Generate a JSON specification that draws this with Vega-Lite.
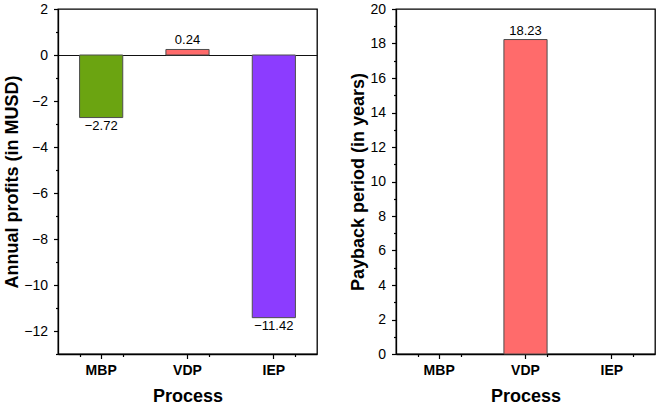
{
  "$schema": "https://vega.github.io/schema/vega-lite/v6.json",
  "background": "white",
  "padding": {"left": 3, "top": 1, "right": 2, "bottom": 1},
  "spacing": 31,
  "data": {"values": [
    {"process": "MBP", "profit": -2.72, "payback": null},
    {"process": "VDP", "profit": 0.24, "payback": 18.23},
    {"process": "IEP", "profit": -11.42, "payback": null}
  ]},
  "config": {
    "font": "Liberation Sans",
    "view": {"stroke": "#000", "strokeWidth": 1.3},
    "axis": {"domainColor": "#000", "domainWidth": 1.3, "tickColor": "#000", "tickWidth": 1.2, "labelColor": "#000", "titleColor": "#000", "labelFont": "Liberation Sans", "titleFont": "Liberation Sans", "grid": false},
    "text": {"font": "Liberation Sans", "fontSize": 13, "color": "#000"}
  },
  "hconcat": [
    {
      "width": 259,
      "height": 345,
      "encoding": {
        "y": {"field": "profit", "type": "quantitative",
          "scale": {"domain": [-13, 2], "nice": false, "zero": false},
          "axis": {"title": "Annual profits (in MUSD)", "titleFontSize": 18, "titleFontWeight": "bold", "labelFontSize": 14,
            "values": [-13, -12, -11, -10, -9, -8, -7, -6, -5, -4, -3, -2, -1, 0, 1, 2],
            "labelExpr": "datum.value % 2 == 0 ? datum.label : ''",
            "tickSize": {"condition": {"test": "datum.value % 2 != 0", "value": 2.5}, "value": 4.5},
            "grid": true, "gridColor": "#111", "gridWidth": 1.1,
            "gridOpacity": {"condition": {"test": "datum.value == 0", "value": 1}, "value": 0},
            "labelPadding": 6, "titlePadding": 2}}
      },
      "layer": [
        {
          "mark": {"type": "bar", "stroke": "#4d4d4d", "strokeWidth": 1},
          "encoding": {
            "x": {"field": "process", "type": "nominal", "sort": ["MBP", "VDP", "IEP"],
              "scale": {"paddingInner": 0.5, "paddingOuter": 0.25},
              "axis": {"orient": "bottom", "title": "Process", "titleFontSize": 18, "titleFontWeight": "bold", "labelFontSize": 14, "labelFontWeight": "bold", "labelAngle": 0, "tickSize": 4.5, "labelPadding": 5, "titlePadding": 10}},
            "color": {"field": "process", "type": "nominal", "scale": {"domain": ["MBP", "VDP", "IEP"], "range": ["#6BA411", "#FF6B6B", "#8C3CFF"]}, "legend": null}
          }
        },
        {
          "transform": [{"filter": "datum.profit >= 0"}],
          "mark": {"type": "text", "baseline": "bottom", "dy": -2},
          "encoding": {
            "x": {"field": "process", "type": "nominal", "sort": ["MBP", "VDP", "IEP"],
              "axis": {"orient": "bottom", "tickBand": "extent", "labels": false, "title": null, "domain": false, "tickSize": 2.5}},
            "text": {"field": "profit", "type": "quantitative", "format": ".2f"}
          }
        },
        {
          "transform": [{"filter": "datum.profit < 0"}],
          "mark": {"type": "text", "baseline": "top", "dy": 2},
          "encoding": {
            "x": {"field": "process", "type": "nominal", "sort": ["MBP", "VDP", "IEP"], "axis": null},
            "text": {"field": "profit", "type": "quantitative", "format": ".2f"}
          }
        }
      ],
      "resolve": {"axis": {"x": "independent"}}
    },
    {
      "width": 259,
      "height": 345,
      "encoding": {
        "y": {"field": "payback", "type": "quantitative",
          "scale": {"domain": [0, 20], "nice": false},
          "axis": {"title": "Payback period (in years)", "titleFontSize": 18, "titleFontWeight": "bold", "labelFontSize": 14,
            "values": [0, 1, 2, 3, 4, 5, 6, 7, 8, 9, 10, 11, 12, 13, 14, 15, 16, 17, 18, 19, 20],
            "labelExpr": "datum.value % 2 == 0 ? datum.label : ''",
            "tickSize": {"condition": {"test": "datum.value % 2 != 0", "value": 2.5}, "value": 4.5},
            "labelPadding": 6, "titlePadding": 2}}
      },
      "layer": [
        {
          "mark": {"type": "bar", "stroke": "#4d4d4d", "strokeWidth": 1},
          "encoding": {
            "x": {"field": "process", "type": "nominal", "sort": ["MBP", "VDP", "IEP"],
              "scale": {"paddingInner": 0.5, "paddingOuter": 0.25},
              "axis": {"orient": "bottom", "title": "Process", "titleFontSize": 18, "titleFontWeight": "bold", "labelFontSize": 14, "labelFontWeight": "bold", "labelAngle": 0, "tickSize": 4.5, "labelPadding": 5, "titlePadding": 10}},
            "color": {"field": "process", "type": "nominal", "scale": {"domain": ["MBP", "VDP", "IEP"], "range": ["#6BA411", "#FF6B6B", "#8C3CFF"]}, "legend": null}
          }
        },
        {
          "transform": [{"filter": "datum.payback != null"}],
          "mark": {"type": "text", "baseline": "bottom", "dy": -2},
          "encoding": {
            "x": {"field": "process", "type": "nominal", "sort": ["MBP", "VDP", "IEP"],
              "axis": {"orient": "bottom", "tickBand": "extent", "labels": false, "title": null, "domain": false, "tickSize": 2.5}},
            "text": {"field": "payback", "type": "quantitative", "format": ".2f"}
          }
        }
      ],
      "resolve": {"axis": {"x": "independent"}}
    }
  ]
}
